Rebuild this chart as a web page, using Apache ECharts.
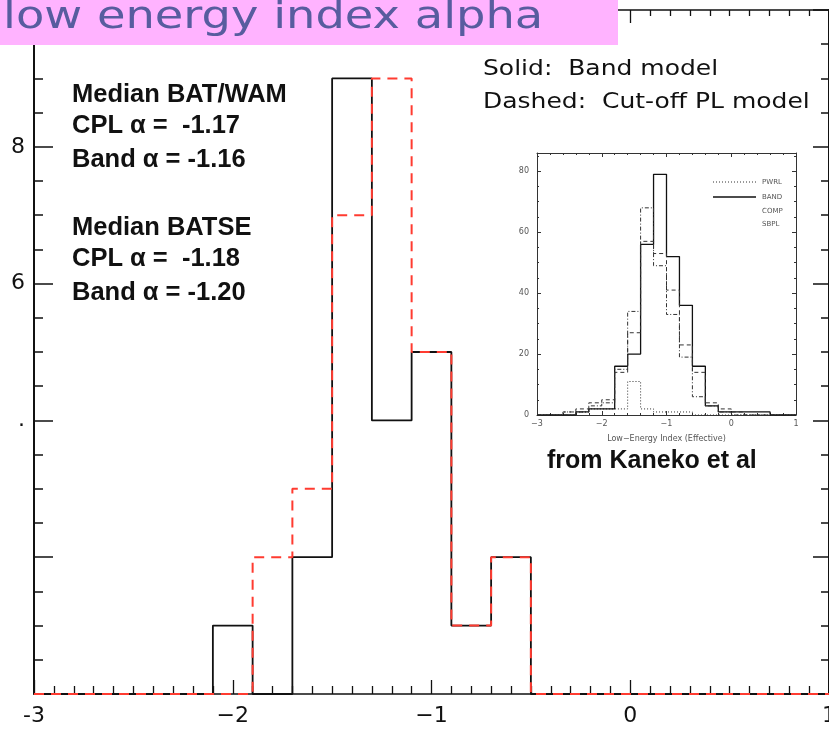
<!DOCTYPE html>
<html>
<head>
<meta charset="utf-8">
<script src="https://cdn.jsdelivr.net/npm/echarts@6/dist/echarts.min.js"></script>
<style>
  html, body { margin: 0; padding: 0; background: #fff; }
  #chart { width: 829px; height: 730px; }
</style>
</head>
<body>
<div id="chart"></div>
<script>
// ---- Main histogram: low-energy index alpha, bins of width 0.2 ----
const binEdges   = [-2.1, -1.9, -1.7, -1.5, -1.3, -1.1, -0.9, -0.7, -0.5];
const bandCounts = [1, 0, 2, 9, 4, 5, 1, 2];   // Band model (solid)
const cplCounts  = [0, 2, 3, 7, 9, 5, 1, 2];   // cut-off power law (dashed)
const xRange = [-3, 1];
const yRange = [0, 10];
const xTickLabels = { '-3': '-3', '-2': '\u22122', '-1': '\u22121', '0': '0', '1': '1' };
const yTickLabels = { '8': '8', '6': '6', '4': '.' };

// ---- Inset: BATSE distributions (Kaneko et al.) ----
const insetEdges = [-2.6, -2.4, -2.2, -2.0, -1.8, -1.6, -1.4, -1.2, -1.0, -0.8, -0.6, -0.4, -0.2, 0.0, 0.2, 0.4, 0.6];
const insetPWRL  = [1, 1, 2, 2, 2, 11, 2, 1, 1, 1, 0, 0, 0, 0, 0, 0];
const insetBAND  = [0, 1, 2, 2, 16, 20, 56, 79, 52, 36, 16, 3, 1, 1, 1, 1];
const insetCOMP  = [1, 2, 4, 5, 14, 27, 57, 53, 41, 23, 14, 4, 2, 1, 0, 0];
const insetSBPL  = [0, 1, 3, 4, 15, 34, 68, 49, 33, 19, 6, 3, 1, 0, 0, 0];
const insetXRange = [-3, 1];
const insetYRange = [0, 86];
const insetNames = ['PWRL', 'BAND', 'COMP', 'SBPL'];

// Median values quoted on the plot
const medianLines = [
  'Median BAT/WAM',
  'CPL \u03b1 =  -1.17',
  'Band \u03b1 = -1.16',
  'Median BATSE',
  'CPL \u03b1 =  -1.18',
  'Band \u03b1 = -1.20'
];

// Turn bin edges + counts into a closed step outline running along the baseline
function stepData(edges, counts, range) {
  const pts = [[range[0], 0]];
  counts.forEach((c, i) => pts.push([edges[i], c]));
  pts.push([edges[edges.length - 1], 0]);
  pts.push([range[1], 0]);
  return pts;
}

const INK = '#111';
const RED = '#ff3b30';
const HERSHEY = '"DejaVu Sans", sans-serif';

function valueAxis(extra) {
  return Object.assign({
    type: 'value',
    splitLine: { show: false },
    minorSplitLine: { show: false },
    axisLine: { show: true, onZero: false, lineStyle: { color: INK, width: 1.5 } }
  }, extra);
}

const chart = echarts.init(document.getElementById('chart'), null, { renderer: 'canvas' });

const insetLineStyle = (type) => ({ color: '#333', width: 1, type: type });

const option = {
  animation: false,
  backgroundColor: '#fff',
  grid: [
    { left: 34, right: 0, top: 10, bottom: 36, containLabel: false, outerBoundsMode: 'none' },
    { left: 537, right: 33, top: 153, bottom: 315, containLabel: false, outerBoundsMode: 'none' }
  ],
  xAxis: [
    valueAxis({
      gridIndex: 0, position: 'bottom', min: xRange[0], max: xRange[1], interval: 1,
      axisTick: { show: true, inside: true, length: 14, lineStyle: { color: INK, width: 1.3 } },
      minorTick: { show: true, splitNumber: 10, length: 8, lineStyle: { color: INK, width: 1.3 } },
      axisLabel: {
        show: true, margin: 11, fontSize: 22, fontFamily: HERSHEY, color: INK,
        showMinLabel: true, showMaxLabel: true,
        formatter: v => xTickLabels[String(v)] ?? ''
      }
    }),
    valueAxis({
      gridIndex: 0, position: 'top', min: xRange[0], max: xRange[1], interval: 1,
      axisTick: { show: true, inside: true, length: 13, lineStyle: { color: INK, width: 1.3 } },
      minorTick: { show: true, splitNumber: 10, length: 6, lineStyle: { color: INK, width: 1.3 } },
      axisLabel: { show: false }
    }),
    valueAxis({
      gridIndex: 1, position: 'bottom', min: insetXRange[0], max: insetXRange[1], interval: 1,
      axisLine: { show: true, onZero: false, lineStyle: { color: '#333', width: 1 } },
      axisTick: { show: true, inside: true, length: 4, lineStyle: { color: '#333', width: 1 } },
      minorTick: { show: true, splitNumber: 5, length: 2, lineStyle: { color: '#333', width: 1 } },
      axisLabel: {
        show: true, margin: 5, fontSize: 8, color: '#555', fontFamily: HERSHEY,
        showMinLabel: true, showMaxLabel: true,
        formatter: v => (v < 0 ? '\u2212' + Math.abs(v) : String(v))
      },
      name: 'Low\u2212Energy Index (Effective)', nameLocation: 'middle', nameGap: 20,
      nameTextStyle: { fontSize: 8, color: '#555', fontFamily: HERSHEY }
    }),
    valueAxis({
      gridIndex: 1, position: 'top', min: insetXRange[0], max: insetXRange[1], interval: 1,
      axisLine: { show: true, onZero: false, lineStyle: { color: '#333', width: 1 } },
      axisTick: { show: true, inside: true, length: 4, lineStyle: { color: '#333', width: 1 } },
      minorTick: { show: true, splitNumber: 5, length: 2, lineStyle: { color: '#333', width: 1 } },
      axisLabel: { show: false }
    })
  ],
  yAxis: [
    valueAxis({
      gridIndex: 0, position: 'left', min: yRange[0], max: yRange[1], interval: 2,
      axisLine: { show: true, onZero: false, lineStyle: { color: INK, width: 2 } },
      axisTick: { show: true, inside: true, length: 19, lineStyle: { color: INK, width: 1.5 } },
      minorTick: { show: true, splitNumber: 4, length: 9, lineStyle: { color: INK, width: 1.5 } },
      axisLabel: {
        show: true, margin: 9, fontSize: 22, fontFamily: HERSHEY, color: INK,
        formatter: v => yTickLabels[String(v)] ?? ''
      }
    }),
    valueAxis({
      gridIndex: 0, position: 'right', min: yRange[0], max: yRange[1], interval: 2,
      axisLine: { show: true, onZero: false, lineStyle: { color: INK, width: 2 } },
      axisTick: { show: true, inside: true, length: 16, lineStyle: { color: INK, width: 1.5 } },
      minorTick: { show: true, splitNumber: 4, length: 8, lineStyle: { color: INK, width: 1.5 } },
      axisLabel: { show: false }
    }),
    valueAxis({
      gridIndex: 1, position: 'left', min: insetYRange[0], max: insetYRange[1], interval: 20,
      axisLine: { show: true, onZero: false, lineStyle: { color: '#333', width: 1 } },
      axisTick: { show: true, inside: true, length: 4, lineStyle: { color: '#333', width: 1 } },
      minorTick: { show: true, splitNumber: 4, length: 2, lineStyle: { color: '#333', width: 1 } },
      axisLabel: {
        show: true, margin: 8, fontSize: 8, color: '#555', fontFamily: HERSHEY,
        formatter: v => (v % 20 === 0 ? String(v) : '')
      }
    }),
    valueAxis({
      gridIndex: 1, position: 'right', min: insetYRange[0], max: insetYRange[1], interval: 20,
      axisLine: { show: true, onZero: false, lineStyle: { color: '#333', width: 1 } },
      axisTick: { show: true, inside: true, length: 4, lineStyle: { color: '#333', width: 1 } },
      minorTick: { show: true, splitNumber: 4, length: 2, lineStyle: { color: '#333', width: 1 } },
      axisLabel: { show: false }
    })
  ],
  series: [
    {
      name: 'Band model', type: 'line', step: 'end', xAxisIndex: 0, yAxisIndex: 0,
      data: stepData(binEdges, bandCounts, xRange),
      symbol: 'none', silent: true, z: 3,
      lineStyle: { color: INK, width: 1.8 }
    },
    {
      name: 'Cut-off PL model', type: 'line', step: 'end', xAxisIndex: 0, yAxisIndex: 0,
      data: stepData(binEdges, cplCounts, xRange),
      symbol: 'none', silent: true, z: 4,
      lineStyle: { color: RED, width: 2, type: [10, 7] }
    },
    {
      name: insetNames[0], type: 'line', step: 'end', xAxisIndex: 2, yAxisIndex: 2,
      data: stepData(insetEdges, insetPWRL, insetXRange), symbol: 'none', silent: true,
      lineStyle: insetLineStyle([1, 2])
    },
    {
      name: insetNames[1], type: 'line', step: 'end', xAxisIndex: 2, yAxisIndex: 2,
      data: stepData(insetEdges, insetBAND, insetXRange), symbol: 'none', silent: true,
      lineStyle: { color: '#111', width: 1.3 }
    },
    {
      name: insetNames[2], type: 'line', step: 'end', xAxisIndex: 2, yAxisIndex: 2,
      data: stepData(insetEdges, insetCOMP, insetXRange), symbol: 'none', silent: true,
      lineStyle: insetLineStyle([4, 3])
    },
    {
      name: insetNames[3], type: 'line', step: 'end', xAxisIndex: 2, yAxisIndex: 2,
      data: stepData(insetEdges, insetSBPL, insetXRange), symbol: 'none', silent: true,
      lineStyle: insetLineStyle([4, 2, 1, 2])
    }
  ],
  graphic: [
    // title banner
    { type: 'rect', shape: { x: 0, y: 0, width: 618, height: 45 }, style: { fill: '#ffb3ff' }, z: 100 },
    {
      type: 'text', x: 3, y: 18, scaleX: 1.22, z: 101,
      style: { text: 'low energy index alpha', font: '38px "DejaVu Sans"', fill: '#585c9f', align: 'left', verticalAlign: 'middle' }
    },
    // model key
    {
      type: 'text', x: 483, y: 70, scaleX: 1.19, z: 50,
      style: { text: 'Solid:  Band model', font: '21px "DejaVu Sans"', fill: INK, align: 'left', verticalAlign: 'middle' }
    },
    {
      type: 'text', x: 483, y: 103, scaleX: 1.19, z: 50,
      style: { text: 'Dashed:  Cut-off PL model', font: '21px "DejaVu Sans"', fill: INK, align: 'left', verticalAlign: 'middle' }
    },
    // medians
    ...medianLines.map((t, i) => ({
      type: 'text', x: 72, y: [95, 126, 160, 228, 259, 293][i], z: 50,
      style: { text: t, font: 'bold 25.5px "Liberation Sans", Arial, sans-serif', fill: INK, align: 'left', verticalAlign: 'middle' }
    })),
    // inset caption
    {
      type: 'text', x: 547, y: 461, z: 50,
      style: { text: 'from Kaneko et al', font: 'bold 25px "Liberation Sans", Arial, sans-serif', fill: INK, align: 'left', verticalAlign: 'middle' }
    },
    // inset key
    { type: 'line', shape: { x1: 713, y1: 182, x2: 756, y2: 182 }, style: { stroke: '#333', lineWidth: 1, lineDash: [1, 2] }, z: 50 },
    { type: 'line', shape: { x1: 713, y1: 197, x2: 756, y2: 197 }, style: { stroke: '#111', lineWidth: 1.3 }, z: 50 },
    ...insetNames.map((t, i) => ({
      type: 'text', x: 762, y: [182, 197, 211, 224][i], z: 50,
      style: { text: t, font: '7px "DejaVu Sans"', fill: '#555', align: 'left', verticalAlign: 'middle' }
    }))
  ]
};

chart.setOption(option);
</script>
</body>
</html>
